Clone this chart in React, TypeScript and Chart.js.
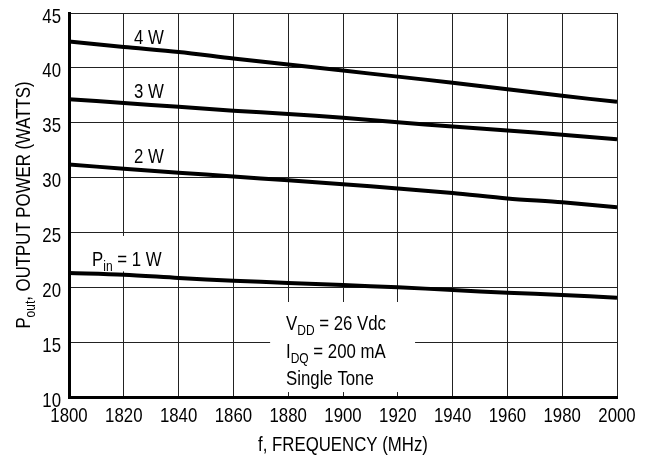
import React, { useEffect, useRef } from 'react';
import { Chart, registerables } from 'chart.js';

Chart.register(...registerables);

// ---- data ----
const frequencies = [1800, 1820, 1840, 1860, 1880, 1900, 1920, 1940, 1960, 1980, 2000];
const pout4W = [42.4, 41.9, 41.45, 40.85, 40.3, 39.75, 39.2, 38.65, 38.05, 37.45, 36.9];
const pout3W = [37.15, 36.8, 36.45, 36.1, 35.8, 35.45, 35.05, 34.65, 34.3, 33.9, 33.5];
const pout2W = [31.2, 30.8, 30.45, 30.1, 29.75, 29.4, 29.0, 28.6, 28.1, 27.75, 27.3];
const pout1W = [21.3, 21.15, 20.85, 20.6, 20.4, 20.2, 20.0, 19.75, 19.5, 19.3, 19.05];
const seriesNames = ['4 W', '3 W', '2 W', '1 W'];
const xMin = 1800, xMax = 2000, xStep = 20;
const yMin = 10, yMax = 45, yStep = 5;

// label anchors in data coordinates
const seriesLabelX = 1829.2;
const seriesLabelY = [42.2, 37.25, 31.32];
const pinLabel = { x: 1808.4, y: 21.9, box: [1806.9, 1836.9, 24.68, 21.45] };
const condBox = [1873.4, 1926.3, 18.66, 10.45];
const condTextX = 1879.2;
const condTextY = [16.1, 13.55, 11.08];

const FONT = "'Liberation Sans', Arial, sans-serif";
const SIZE = 21;
const SUB = 15;
const SX = 0.8; // horizontal condensing

type Part = { t: string; sub?: boolean };

function richWidth(ctx: CanvasRenderingContext2D, parts: Part[]) {
  let w = 0;
  for (const p of parts) {
    ctx.font = `${p.sub ? SUB : SIZE}px ${FONT}`;
    w += ctx.measureText(p.t).width * SX;
  }
  return w;
}

// draws condensed rich text, baseline at y
function drawRich(ctx: CanvasRenderingContext2D, parts: Part[], x: number, y: number, align: 'left' | 'center' | 'right' = 'left') {
  const w = richWidth(ctx, parts);
  let cx = align === 'left' ? x : align === 'center' ? x - w / 2 : x - w;
  for (const p of parts) {
    ctx.font = `${p.sub ? SUB : SIZE}px ${FONT}`;
    ctx.save();
    ctx.translate(cx, p.sub ? y + 5 : y);
    ctx.scale(SX, 1);
    ctx.textBaseline = 'alphabetic';
    ctx.textAlign = 'left';
    ctx.fillText(p.t, 0, 0);
    ctx.restore();
    cx += ctx.measureText(p.t).width * SX;
  }
}

const annotPlugin = {
  id: 'annot',
  beforeDatasetsDraw(chart: any) {
    const ctx: CanvasRenderingContext2D = chart.ctx;
    const xs = chart.scales.x, ys = chart.scales.y;
    ctx.save();
    ctx.fillStyle = '#fff';
    const boxes = [pinLabel.box, condBox];
    for (const b of boxes) {
      const x0 = xs.getPixelForValue(b[0]);
      const x1 = xs.getPixelForValue(b[1]);
      const y0 = ys.getPixelForValue(b[2]);
      const y1 = ys.getPixelForValue(b[3]);
      ctx.fillRect(x0, y0, x1 - x0, y1 - y0);
    }
    ctx.restore();
  },
  afterDatasetsDraw(chart: any) {
    const ctx: CanvasRenderingContext2D = chart.ctx;
    const xs = chart.scales.x, ys = chart.scales.y;
    const area = chart.chartArea;
    ctx.save();
    ctx.fillStyle = '#000';
    // tick labels
    for (const t of ys.ticks) {
      drawRich(ctx, [{ t: String(t.value) }], area.left - 8, ys.getPixelForValue(t.value) + 9.5, 'right');
    }
    for (const t of xs.ticks) {
      drawRich(ctx, [{ t: String(t.value) }], xs.getPixelForValue(t.value), area.bottom + 25, 'center');
    }
    // series labels
    for (let i = 0; i < 3; i++) {
      drawRich(ctx, [{ t: seriesNames[i] }], xs.getPixelForValue(seriesLabelX), ys.getPixelForValue(seriesLabelY[i]), 'center');
    }
    drawRich(ctx, [{ t: 'P' }, { t: 'in', sub: true }, { t: ' = ' + seriesNames[3] }],
      xs.getPixelForValue(pinLabel.x), ys.getPixelForValue(pinLabel.y));
    // conditions
    const cx = xs.getPixelForValue(condTextX);
    drawRich(ctx, [{ t: 'V' }, { t: 'DD', sub: true }, { t: ' = 26 Vdc' }], cx, ys.getPixelForValue(condTextY[0]));
    drawRich(ctx, [{ t: 'I' }, { t: 'DQ', sub: true }, { t: ' = 200 mA' }], cx, ys.getPixelForValue(condTextY[1]));
    drawRich(ctx, [{ t: 'Single Tone' }], cx, ys.getPixelForValue(condTextY[2]));
    // x title
    drawRich(ctx, [{ t: 'f, FREQUENCY (MHz)' }], (area.left + area.right) / 2, area.bottom + 54, 'center');
    // y title
    const yt: Part[] = [{ t: 'P' }, { t: 'out', sub: true }, { t: ', OUTPUT POWER (WATTS)' }];
    ctx.translate(area.left - 39, (area.top + area.bottom) / 2);
    ctx.rotate(-Math.PI / 2);
    drawRich(ctx, yt, 0, 0, 'center');
    ctx.restore();
  },
};

export default function App() {
  const ref = useRef<HTMLCanvasElement>(null);
  useEffect(() => {
    document.body.style.margin = '0';
    const series = [pout4W, pout3W, pout2W, pout1W];
    const chart = new Chart(ref.current!, {
      type: 'line',
      data: {
        datasets: series.map((s, i) => ({
          label: seriesNames[i],
          data: frequencies.map((f, j) => ({ x: f, y: s[j] })),
          borderColor: '#000',
          borderWidth: 4,
          pointRadius: 0,
          tension: 0.3,
          fill: false,
        })),
      },
      options: {
        animation: false,
        responsive: false,
        devicePixelRatio: 1,
        layout: { padding: { top: 13, right: 33, left: 0, bottom: 0 } },
        plugins: { legend: { display: false }, tooltip: { enabled: false } },
        scales: {
          x: {
            type: 'linear',
            min: xMin,
            max: xMax,
            afterFit: (s: any) => { s.height = 64; },
            ticks: { stepSize: xStep, display: false },
            grid: { color: '#222', lineWidth: 1, drawTicks: false },
            border: { color: '#000', width: 3 },
          },
          y: {
            min: yMin,
            max: yMax,
            afterFit: (s: any) => { s.width = 69; },
            ticks: { stepSize: yStep, display: false },
            grid: { color: '#222', lineWidth: 1, drawTicks: false },
            border: { color: '#000', width: 3 },
          },
        },
      },
      plugins: [annotPlugin],
    });
    return () => chart.destroy();
  }, []);
  return (
    <div style={{ width: 650, height: 461 }}>
      <canvas ref={ref} width={650} height={461} />
    </div>
  );
}
